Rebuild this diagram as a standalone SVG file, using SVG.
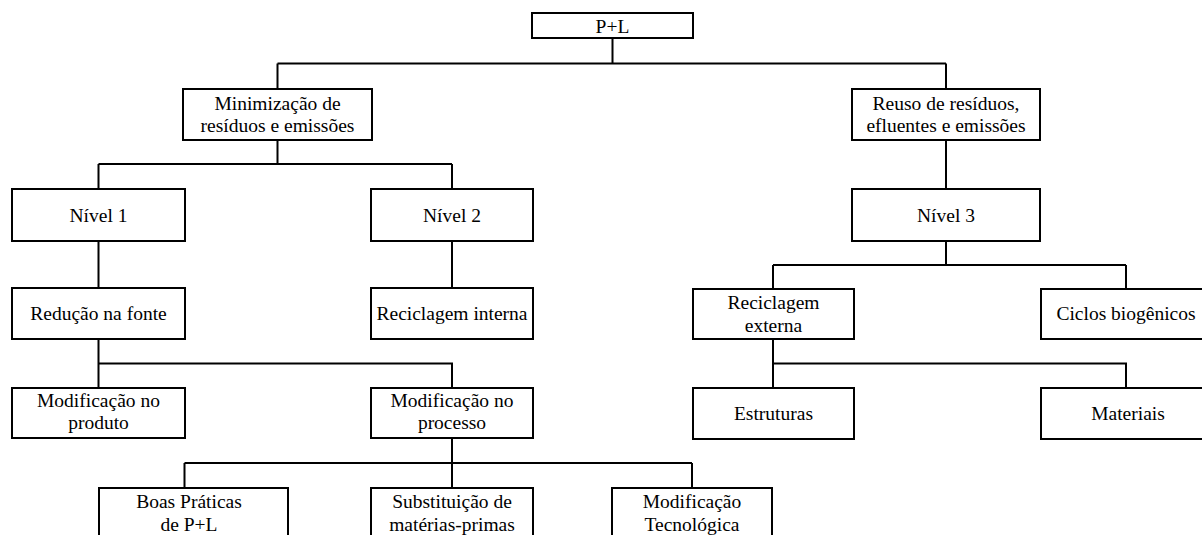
<svg xmlns="http://www.w3.org/2000/svg" width="1202" height="535" viewBox="0 0 1202 535">
<style>
.box{fill:#fff;stroke:#000;stroke-width:2}
.ln{fill:none;stroke:#000;stroke-width:2}
.t{font-family:'Liberation Serif',Tinos,'Times New Roman',Times,serif;font-size:19.5px;fill:#000;text-anchor:middle}
</style>
<rect width="1202" height="535" fill="#fff"/>
<g id="connectors">
<path class="ln" d="M612.5,38 V63.5 M277.5,63.5 H946 M277.5,63.5 V89 M946,63.5 V89"/>
<path class="ln" d="M277.5,140 V164 M98.5,164 H452 M98.5,164 V189 M452,164 V189"/>
<path class="ln" d="M946,140 V189"/>
<path class="ln" d="M98.5,241 V288 M452,241 V288"/>
<path class="ln" d="M946,241 V265 M773,265 H1126 M773,265 V289 M1126,265 V289"/>
<path class="ln" d="M98.5,339 V388 M98.5,363.5 H452 V388"/>
<path class="ln" d="M773,339 V388 M773,363.5 H1126 V388"/>
<path class="ln" d="M452,438 V488 M184.5,463 H692 M184.5,463 V488 M692,463 V488"/>
</g>
<g class="t" font-family="Liberation Serif, serif">
<g id="n-pl"><rect class="box" x="532" y="13" width="161" height="25"/><text x="612.5" y="33">P+L</text></g>
<g id="n-min"><rect class="box" x="183" y="89" width="189" height="51"/><text x="277.5" y="110">Minimização de</text><text x="277.5" y="132">resíduos e emissões</text></g>
<g id="n-reuso"><rect class="box" x="852" y="89" width="188" height="51"/><text x="946" y="110">Reuso de resíduos,</text><text x="946" y="132">efluentes e emissões</text></g>
<g id="n-nivel1"><rect class="box" x="12" y="189" width="173" height="52"/><text x="98.5" y="222">Nível 1</text></g>
<g id="n-nivel2"><rect class="box" x="371" y="189" width="162" height="52"/><text x="452" y="222">Nível 2</text></g>
<g id="n-nivel3"><rect class="box" x="852" y="189" width="188" height="52"/><text x="946" y="222">Nível 3</text></g>
<g id="n-reducao"><rect class="box" x="12" y="288" width="173" height="51"/><text x="98.5" y="320">Redução na fonte</text></g>
<g id="n-recint"><rect class="box" x="371" y="288" width="162" height="51"/><text x="452" y="320">Reciclagem interna</text></g>
<g id="n-recext"><rect class="box" x="693" y="289" width="161" height="50"/><text x="773.5" y="309">Reciclagem</text><text x="773.5" y="332">externa</text></g>
<g id="n-ciclos"><rect class="box" x="1041" y="289" width="170" height="50"/><text x="1126" y="320">Ciclos biogênicos</text></g>
<g id="n-modprod"><rect class="box" x="12" y="388" width="173" height="50"/><text x="98.5" y="407">Modificação no</text><text x="98.5" y="429">produto</text></g>
<g id="n-modproc"><rect class="box" x="371" y="388" width="162" height="50"/><text x="452" y="407">Modificação no</text><text x="452" y="429">processo</text></g>
<g id="n-estr"><rect class="box" x="693" y="388" width="161" height="51"/><text x="773.5" y="420">Estruturas</text></g>
<g id="n-mat"><rect class="box" x="1041" y="388" width="170" height="51"/><text x="1128" y="420">Materiais</text></g>
<g id="n-boas"><rect class="box" x="99" y="488" width="189" height="60"/><text x="189" y="508">Boas Práticas</text><text x="189" y="531">de P+L</text></g>
<g id="n-subst"><rect class="box" x="371" y="488" width="162" height="60"/><text x="452" y="508">Substituição de</text><text x="452" y="531">matérias-primas</text></g>
<g id="n-modtec"><rect class="box" x="612" y="488" width="160" height="60"/><text x="692" y="508">Modificação</text><text x="692" y="531">Tecnológica</text></g>
</g>
</svg>
